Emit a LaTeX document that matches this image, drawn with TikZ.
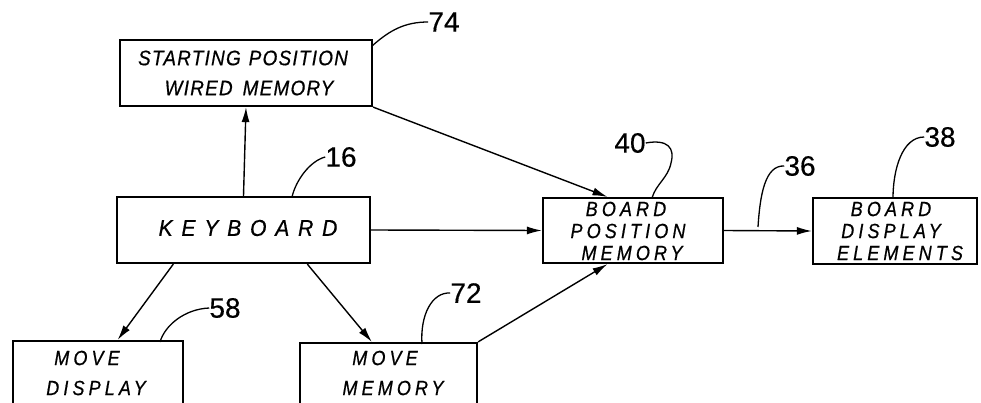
\documentclass[tikz,border=0pt]{standalone}
\usepackage{fontspec}
\setmainfont{Liberation Sans}
\newfontfamily\hand[LetterSpace=20,FakeStretch=0.88,FakeBold=0.6]{Liberation Sans}
\newfontfamily\handwide[LetterSpace=38,FakeStretch=0.92,FakeBold=0.6]{Liberation Sans}
\newfontfamily\handnarrow[LetterSpace=6,FakeStretch=0.9,FakeBold=0.6]{Liberation Sans}
\newfontfamily\numfont[FakeBold=0.4]{Liberation Sans}
\usetikzlibrary{arrows.meta,calc}
\tikzset{
  box/.style={draw, line width=2.2pt, inner sep=0pt, rectangle},
  arr/.style={line width=1.4pt, -{Latex[length=15pt,width=8pt]}},
  lead/.style={line width=1.3pt},
  num/.style={font=\numfont\fontsize{28}{28}\selectfont, inner sep=0pt},
  txt/.style={font=\hand\itshape\fontsize{20.5}{20.5}\selectfont, inner sep=0pt},
}
\begin{document}
\begin{tikzpicture}[x=1pt,y=-1pt]
\useasboundingbox (0,0) rectangle (981,403);
\clip (0,0) rectangle (981,403);
% boxes
\node[box, minimum width=252pt, minimum height=66pt] (start) at (246,73) {};
\node[box, minimum width=253pt, minimum height=66pt] (kb) at (243.5,230) {};
\node[box, minimum width=180pt, minimum height=65pt] (bpm) at (633,230.5) {};
\node[box, minimum width=164pt, minimum height=66pt] (bde) at (895,231) {};
\node[box, minimum width=170pt, minimum height=70pt] (md) at (98,376) {};
\node[box, minimum width=177pt, minimum height=68pt] (mm) at (388.5,377) {};
% texts
\node[txt, font=\handnarrow\itshape\fontsize{21}{21}\selectfont] (t1) at (243,58) {STARTING\hspace{8pt}POSITION};
\node[txt, font=\handnarrow\itshape\fontsize{21}{21}\selectfont] (t2) at (249,88) {WIRED\hspace{10pt}MEMORY};
\node[txt, font=\handwide\itshape\fontsize{23}{23}\selectfont] (t3) at (248,228) {KEYBOARD};
\node[txt] (t4) at (626,209) {BOARD};
\node[txt] (t5) at (628,231) {POSITION};
\node[txt] (t6) at (632,253) {MEMORY};
\node[txt] (t7) at (891,209) {BOARD};
\node[txt] (t8) at (891,231) {DISPLAY};
\node[txt] (t9) at (900,253) {ELEMENTS};
\node[txt] (t10) at (87,358) {MOVE};
\node[txt] (t11) at (96,388) {DISPLAY};
\node[txt] (t12) at (385,358) {MOVE};
\node[txt] (t13) at (393,388) {MEMORY};
% reference numerals
\node[num] (n74) at (444,22) {74};
\node[num] (n16) at (341,157) {16};
\node[num] (n40) at (630,143) {40};
\node[num] (n36) at (800,166) {36};
\node[num] (n38) at (940,137) {38};
\node[num] (n58) at (225,308) {58};
\node[num] (n72) at (466,293) {72};
% leaders
\coordinate (c74) at (372,46);
\coordinate (c16) at (292,197);
\coordinate (c40) at (652,198);
\coordinate (c36) at (758,227);
\coordinate (c38) at (893,198);
\coordinate (c58) at (160,342);
\coordinate (c72) at (422,344);
\draw[lead] (c74) .. controls (390,30) and (405,22) .. (n74.west);
\draw[lead] (c16) .. controls (296,180) and (310,161) .. (n16.west);
\draw[lead] (c40) .. controls (656,184) and (668,178) .. (671,163) .. controls (675,148) and (668,139) .. (n40.east);
\draw[lead] (c36) .. controls (760,195) and (765,165) .. (n36.west);
\draw[lead] (c38) .. controls (893,170) and (902,137) .. (n38.west);
\draw[lead] (c58) .. controls (165,325) and (185,309) .. (n58.west);
\draw[lead] (c72) .. controls (420,315) and (432,292) .. (n72.west);
% connectors
\draw[arr] (kb.north) -- (start.south);
\draw[arr] (start.south east) -- ($(bpm.north west)!0.36!(bpm.north east)$);
\draw[arr] (kb.east) -- (bpm.west);
\draw[arr] (bpm.east) -- (bde.west);
\draw[arr] ($(kb.south west)!0.225!(kb.south east)$) -- ($(md.north west)!0.614!(md.north east)$);
\draw[arr] ($(kb.south west)!0.75!(kb.south east)$) -- ($(mm.north west)!0.407!(mm.north east)$);
\draw[arr] (mm.north east) -- ($(bpm.south west)!0.36!(bpm.south east)$);
\end{tikzpicture}
\end{document}
